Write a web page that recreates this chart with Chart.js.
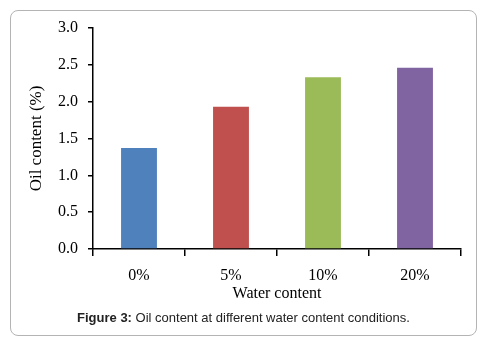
<!DOCTYPE html>
<html>
<head>
<meta charset="utf-8">
<script src="https://cdn.jsdelivr.net/npm/chart.js@4/dist/chart.umd.min.js"></script>
<style>
  html, body { margin: 0; padding: 0; background: #fff; }
  #wrap { position: relative; width: 487px; height: 346px; }
  #frame { position: absolute; left: 10px; top: 10px; width: 465px; height: 324px;
           border: 1px solid #b4b4b4; border-radius: 8px; box-sizing: content-box; }
  canvas { position: absolute; left: 0; top: 0; }
  #caption { position: absolute; left: 0; width: 487px; top: 310px; text-align: center;
             font-family: "Liberation Sans", Arial, sans-serif; font-size: 13px; color: #222;
             padding-left: 0px; }
</style>
</head>
<body>
<div id="wrap">
  <div id="frame"></div>
  <canvas id="c" width="487" height="346"></canvas>
  <div id="caption"><b>Figure 3:</b> Oil content at different water content conditions.</div>
</div>
<script>
const categories = ["0%", "5%", "10%", "20%"];
const oilContent = [1.37, 1.93, 2.33, 2.46];
const barColors = ["#4F81BD", "#C0504D", "#9BBB59", "#8064A2"];
const yTicks = [0, 0.5, 1.0, 1.5, 2.0, 2.5, 3.0];
const xTitle = "Water content";
const yTitle = "Oil content (%)";

const serif = "'Liberation Serif', 'Times New Roman', serif";

new Chart(document.getElementById('c'), {
  type: 'bar',
  data: {
    labels: categories,
    datasets: [{
      data: oilContent,
      backgroundColor: barColors,
      borderWidth: 0,
      barPercentage: 0.39,
      categoryPercentage: 1.0
    }]
  },
  options: {
    responsive: false,
    animation: false,
    devicePixelRatio: 1,
    layout: { padding: { left: 20, right: 26, top: 28, bottom: 42 } },
    plugins: { legend: { display: false }, tooltip: { enabled: false } },
    scales: {
      x: {
        grid: { drawOnChartArea: false, drawTicks: true, tickLength: 7, color: '#000', lineWidth: 1.5, offset: true },
        border: { color: '#000', width: 1.5 },
        ticks: { color: '#000', font: { family: serif, size: 16 }, padding: 10 },
        title: { display: true, text: xTitle, color: '#000', font: { family: serif, size: 16 }, padding: { top: 0, bottom: 1 } },
        afterFit: s => { s.height = 55; }
      },
      y: {
        min: 0, max: 3,
        afterBuildTicks: s => { s.ticks = yTicks.map(v => ({ value: v })); },
        grid: { drawOnChartArea: false, drawTicks: true, tickLength: 5, color: '#000', lineWidth: 1.5 },
        border: { color: '#000', width: 1.5 },
        ticks: { color: '#000', font: { family: serif, size: 16 }, padding: 10, callback: v => Number(v).toFixed(1) },
        title: { display: true, text: yTitle, color: '#000', font: { family: serif, size: 17 }, padding: { top: 6, bottom: 0 } },
        afterFit: s => { s.width = 73; }
      }
    }
  }
});
</script>
</body>
</html>
